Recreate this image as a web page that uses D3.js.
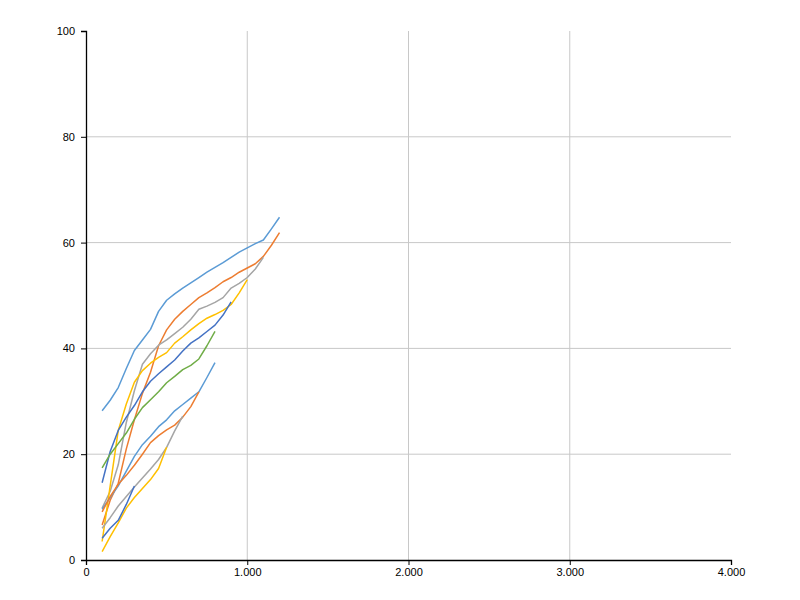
<!DOCTYPE html>
<html>
<head>
<meta charset="utf-8">
<script src="https://cdn.jsdelivr.net/npm/d3@7"></script>
<style>
  body { margin: 0; background: #fff; }
  .tick text { font-family: "Liberation Sans", Arial, sans-serif; font-size: 11px; fill: #000; }
</style>
</head>
<body>
<div id="chart"></div>
<script>
// x positions shared by every series (each series just stops earlier)
xValues = [100, 150, 200, 250, 300, 350, 400, 450, 500, 550, 600, 650, 700, 750, 800, 850, 900, 950, 1000, 1050, 1100, 1150, 1200];

s1 = [28.2, 30.2, 32.6, 36.2, 39.6, 41.6, 43.6, 47, 49.1, 50.3, 51.4, 52.4, 53.4, 54.4, 55.3, 56.2, 57.2, 58.2, 59, 59.8, 60.5, 62.6, 64.8];
s2 = [6.6, 11.3, 14.5, 21, 26.5, 31.5, 35.5, 40.5, 43.5, 45.5, 47, 48.3, 49.6, 50.5, 51.5, 52.6, 53.4, 54.4, 55.2, 56, 57.4, 59.5, 61.9];
s3 = [9.8, 13, 18, 26, 32, 37, 39, 40.6, 41.6, 42.8, 44, 45.5, 47.4, 48, 48.7, 49.6, 51.4, 52.3, 53.4, 55, 57.2];
s4 = [3.5, 14, 24.5, 29.5, 33.6, 35.8, 37.2, 38.3, 39.2, 41, 42.2, 43.5, 44.7, 45.7, 46.4, 47.2, 48.3, 50.5, 53];
s5 = [14.6, 20.5, 24.5, 27, 29.2, 31.8, 33.8, 35.2, 36.5, 37.8, 39.5, 41, 42, 43.2, 44.4, 46.3, 48.8];
s6 = [17.4, 20, 22, 24, 26.6, 28.8, 30.3, 31.8, 33.5, 34.7, 36, 36.8, 38, 40.5, 43.2];
s7 = [9.6, 11.8, 14, 16.8, 19.6, 21.8, 23.4, 25.2, 26.5, 28.2, 29.4, 30.6, 31.8, 34.5, 37.3];
s8 = [9.1, 12, 14.3, 16, 17.9, 20, 22.2, 23.5, 24.6, 25.5, 27, 29, 31.8];
s9 = [6, 8, 10.2, 12, 13.8, 15.5, 17.2, 19, 21.3, 24.4, 27.2];
s10 = [1.6, 4.4, 7, 9.8, 11.8, 13.5, 15.2, 17.3, 21.3];
s11 = [4.1, 6, 7.5, 10.5, 14];

seriesList = [s1, s2, s3, s4, s5, s6, s7, s8, s9, s10, s11];
colors = ["#5B9BD5", "#ED7D31", "#A5A5A5", "#FFC000", "#4472C4", "#70AD47"];

xTicks = [0, 1000, 2000, 3000, 4000];
yTicks = [0, 20, 40, 60, 80, 100];

margin = {top: 31, right: 69, bottom: 40, left: 86},
  width = 800 - margin.left - margin.right,
  height = 600 - margin.top - margin.bottom;

svg = d3.select("#chart")
  .append("svg")
  .attr("width", 800)
  .attr("height", 600)
  .append("g")
  .attr("transform", `translate(${margin.left}, ${margin.top})`);

x = d3.scaleLinear().domain([0, 4000]).range([0, width]);
y = d3.scaleLinear().domain([0, 100]).range([height, 0]);

// german style thousands separator
de = d3.formatLocale({decimal: ",", thousands: ".", grouping: [3], currency: ["", "€"]});
fmt = de.format(",d");

// gridlines
svg.selectAll(".vgrid")
  .data(xTicks.filter(d => d > 0 && d < 4000))
  .join("line")
  .attr("x1", d => x(d)).attr("x2", d => x(d))
  .attr("y1", 0).attr("y2", height)
  .style("stroke", "#c8c8c8")
  .style("stroke-width", 1);

svg.selectAll(".hgrid")
  .data(yTicks.filter(d => d > 0 && d < 100))
  .join("line")
  .attr("x1", 0).attr("x2", width)
  .attr("y1", d => y(d)).attr("y2", d => y(d))
  .style("stroke", "#c8c8c8")
  .style("stroke-width", 1);

// lines
line = d3.line()
  .x((d, i) => x(xValues[i]))
  .y(d => y(d));

svg.selectAll(".series")
  .data(seriesList)
  .join("path")
  .attr("d", d => line(d))
  .style("fill", "none")
  .style("stroke", (d, i) => colors[i % colors.length])
  .style("stroke-width", 1.5)
  .style("stroke-linejoin", "round");

// axes
xAxis = svg.append("g")
  .attr("transform", `translate(0, ${height})`)
  .call(d3.axisBottom(x).tickValues(xTicks).tickFormat(fmt).tickSize(5).tickPadding(3));

yAxis = svg.append("g")
  .call(d3.axisLeft(y).tickValues(yTicks).tickSize(5).tickPadding(6));

svg.selectAll(".domain").style("stroke", "#000").style("stroke-width", 1.3);
svg.selectAll(".tick line").style("stroke", "#000");
</script>
</body>
</html>
